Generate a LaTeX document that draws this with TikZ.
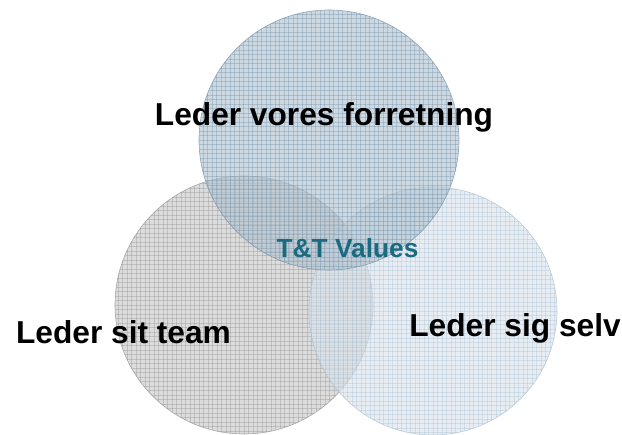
\documentclass[tikz,border=0pt]{standalone}
\usepackage{fontspec}
\setmainfont{Liberation Sans}
\definecolor{topfill}{HTML}{B2C4D2}
\definecolor{topgrid}{HTML}{6F8CA3}
\definecolor{leftfill}{HTML}{CACACA}
\definecolor{leftgrid}{HTML}{8E8E8E}
\definecolor{rightfill}{HTML}{DAE4ED}
\definecolor{rightgrid}{HTML}{A7BDD0}
\definecolor{teal}{HTML}{1A6A80}
\tikzset{
  lbl/.style={font=\fontsize{31.7}{36}\selectfont\bfseries, text=black, inner sep=0pt},
  circ/.style={draw=#1grid, fill=#1fill, fill opacity=0.65, draw opacity=0.7, line width=0.6pt}
}
\newcommand{\gridcircle}[4]{%
  \path[circ=#4] (#1,#2) circle[radius=#3];
  \begin{scope}
    \clip (#1,#2) circle[radius=#3];
    \foreach \k in {-30,...,30}{%
      \draw[#4grid, line width=0.4pt, draw opacity=0.35]
        (#1+4.5*\k,#2-#3-2) -- (#1+4.5*\k,#2+#3+2);
      \draw[#4grid, line width=0.4pt, draw opacity=0.35]
        (#1-#3-2,#2+4.5*\k) -- (#1+#3+2,#2+4.5*\k);
    }
  \end{scope}%
}
\begin{document}
\begin{tikzpicture}[x=1pt,y=-1pt]
\useasboundingbox (0,0) rectangle (622,435);
\begin{scope}
\clip (0,0) rectangle (622,435);
\gridcircle{244}{305}{129}{left}
\gridcircle{433}{311}{124}{right}
\gridcircle{329}{140}{130}{top}
\end{scope}
\node[lbl] (biz) at (324,117) {Leder vores forretning};
\node[lbl] (team) at (123.5,332) {Leder sit team};
\node[lbl] (self) at (515,328) {Leder sig selv};
\node[font=\fontsize{26.3}{30}\selectfont\bfseries, text=teal, inner sep=0pt] (val) at (347.5,248) {T\&T Values};
\end{tikzpicture}
\end{document}
